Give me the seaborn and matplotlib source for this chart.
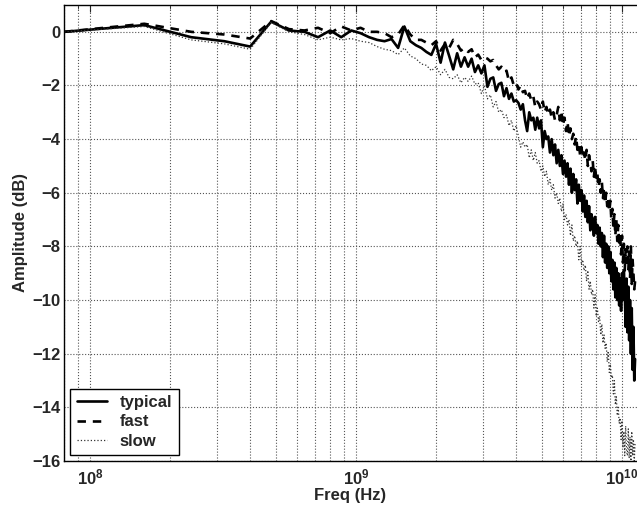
import numpy as np
import pandas as pd
import seaborn as sns
import matplotlib.pyplot as plt
from matplotlib.ticker import LogLocator, LogFormatterMathtext, NullFormatter

# frequency points (MHz), 80 MHz sweep step
freq_mhz = [
    80, 160, 240, 320, 400, 480, 560, 640, 720, 800,
    880, 960, 1040, 1120, 1200, 1280, 1360, 1440, 1520, 1600,
    1680, 1760, 1840, 1920, 2000, 2080, 2160, 2240, 2320, 2400,
    2480, 2560, 2640, 2720, 2800, 2880, 2960, 3040, 3120, 3200,
    3280, 3360, 3440, 3520, 3600, 3680, 3760, 3840, 3920, 4000,
    4080, 4160, 4240, 4320, 4400, 4480, 4560, 4640, 4720, 4800,
    4880, 4960, 5040, 5120, 5200, 5280, 5360, 5440, 5520, 5600,
    5680, 5760, 5840, 5920, 6000, 6080, 6160, 6240, 6320, 6400,
    6480, 6560, 6640, 6720, 6800, 6880, 6960, 7040, 7120, 7200,
    7280, 7360, 7440, 7520, 7600, 7680, 7760, 7840, 7920, 8000,
    8080, 8160, 8240, 8320, 8400, 8480, 8560, 8640, 8720, 8800,
    8880, 8960, 9040, 9120, 9200, 9280, 9360, 9440, 9520, 9600,
    9680, 9760, 9840, 9920, 10000, 10080, 10160, 10240, 10320, 10400,
    10480, 10560, 10640, 10720, 10800, 10880, 10960, 11040, 11120, 11200,
]

typical = [
    0.0, 0.25, -0.2, -0.35, -0.55, 0.38, 0.05, 0.0, -0.2, 0.05,
    -0.2, 0.05, -0.05, -0.2, -0.3, -0.35, -0.27, -0.6, 0.2, -0.35,
    -0.5, -0.6, -0.75, -0.86, -0.45, -1.15, -0.4, -0.9, -1.4, -0.8,
    -1.3, -0.95, -1.3, -1.0, -1.5, -1.25, -1.55, -1.25, -2.05, -1.75,
    -1.7, -2.2, -1.95, -1.9, -2.4, -2.1, -2.5, -2.3, -2.6, -2.55,
    -2.65, -2.9, -2.7, -3.3, -3.7, -3.0, -3.3, -3.2, -3.65, -3.2,
    -3.6, -3.3, -4.3, -3.7, -4.0, -3.9, -4.5, -4.0, -4.6, -4.2,
    -4.9, -4.4, -5.0, -4.6, -5.3, -4.8, -5.4, -4.9, -5.7, -5.1,
    -6.0, -5.3, -5.9, -5.5, -6.4, -5.7, -6.3, -5.9, -6.7, -6.1,
    -6.9, -6.3, -7.1, -6.5, -7.4, -6.8, -7.1, -7.6, -6.9, -7.5,
    -7.2, -7.9, -7.3, -8.0, -7.5, -8.4, -7.6, -8.6, -7.9, -8.8,
    -8.0, -9.0, -8.2, -9.3, -8.5, -9.6, -8.6, -9.9, -8.8, -10.0,
    -9.0, -10.2, -9.2, -10.4, -9.0, -10.0, -8.9, -9.6, -11.0, -9.2,
    -11.2, -9.5, -11.5, -10.0, -12.0, -10.3, -12.6, -11.0, -13.0, -12.2,
]

fast = [
    0.0, 0.3, 0.0, -0.1, -0.25, 0.4, 0.1, 0.05, 0.15, -0.05,
    0.2, 0.05, 0.15, 0.0, 0.0, -0.05, -0.2, -0.1, 0.25, -0.1,
    -0.3, -0.3, -0.4, -0.5, -0.35, -0.7, -0.45, -0.6, -0.3, -0.45,
    -0.7, -0.6, -0.75, -0.65, -0.95, -0.85, -1.05, -0.95, -1.0, -1.1,
    -1.05, -1.25, -1.4, -1.3, -1.5, -1.45, -1.85, -1.7, -2.0, -1.9,
    -2.15, -2.0, -2.25, -2.2, -2.5, -2.3, -2.55, -2.4, -2.8, -2.6,
    -2.7, -2.9, -2.6, -3.0, -2.8, -3.1, -2.9, -3.2, -3.0, -3.3,
    -3.1, -2.8, -3.3, -3.0, -3.5, -3.2, -3.7, -3.35, -3.9, -3.6,
    -4.0, -3.8, -4.2, -3.9, -4.4, -4.2, -4.6, -4.3, -4.7, -4.5,
    -4.8, -4.4, -5.0, -4.6, -4.9, -5.2, -4.8, -5.4, -5.0, -5.5,
    -5.3, -5.8, -5.5, -6.0, -5.6, -6.2, -5.8, -6.4, -6.0, -6.5,
    -6.2, -6.7, -6.3, -7.0, -6.6, -7.3, -6.8, -7.6, -7.0, -7.8,
    -7.2, -8.0, -7.5, -8.3, -7.6, -8.6, -7.9, -8.9, -8.1, -8.6,
    -8.0, -8.9, -8.2, -9.2, -8.0, -9.4, -8.5, -9.0, -9.6, -9.3,
]

slow = [
    0.0, 0.2, -0.3, -0.45, -0.65, 0.35, 0.0, -0.1, -0.3, -0.2,
    -0.3, -0.25, -0.35, -0.4, -0.55, -0.65, -0.7, -0.85, -0.6, -0.9,
    -1.0, -1.2, -1.25, -1.45, -1.3, -1.6, -1.4, -1.7, -1.75, -1.6,
    -1.9, -1.7, -1.85, -1.65, -1.95, -1.9, -2.3, -2.0, -2.5, -2.35,
    -2.8, -2.6, -3.0, -2.9, -3.2, -3.1, -3.5, -3.3, -3.7, -3.5,
    -3.9, -4.3, -4.1, -4.3, -4.2, -4.7, -4.4, -4.8, -4.5, -4.9,
    -4.8, -5.2, -5.0, -5.4, -5.2, -5.7, -5.5, -5.9, -5.7, -6.2,
    -6.0, -6.4, -6.2, -6.7, -6.4, -7.0, -6.8, -7.2, -7.0, -7.6,
    -7.2, -7.8, -7.6, -8.0, -7.8, -8.5, -8.0, -8.7, -8.5, -8.9,
    -8.7, -9.3, -8.9, -9.6, -9.3, -9.8, -9.6, -10.3, -9.8, -10.6,
    -10.3, -10.8, -10.6, -11.3, -10.9, -11.6, -11.3, -11.8, -11.6, -12.3,
    -11.9, -12.7, -12.4, -12.9, -12.8, -13.5, -13.0, -13.9, -13.6, -14.3,
    -14.0, -14.6, -14.4, -15.2, -14.5, -15.5, -14.9, -15.8, -14.7, -15.6,
    -15.8, -14.8, -15.9, -15.1, -16.0, -14.9, -15.8, -15.2, -16.0, -15.3,
]

y_ticks = [-16, -14, -12, -10, -8, -6, -4, -2, 0]

df = pd.DataFrame({
    "freq": np.array(freq_mhz) * 1e6,
    "typical": typical,
    "fast": fast,
    "slow": slow,
})

sns.set_style("white")
plt.rcParams['font.family'] = ['Liberation Sans', 'DejaVu Sans']
plt.rcParams['font.weight'] = 'bold'
plt.rcParams['axes.labelweight'] = 'bold'
plt.rcParams['mathtext.fontset'] = 'custom'
plt.rcParams['mathtext.rm'] = 'Liberation Sans:bold'
plt.rcParams['mathtext.bf'] = 'Liberation Sans:bold'
plt.rcParams['mathtext.default'] = 'bf'

fs = 12
dpi = 100
fig = plt.figure(figsize=(6.37, 5.14), dpi=dpi)
ax = fig.add_axes([64 / 637, 53 / 514, 573 / 637, 456 / 514])

sns.lineplot(data=df, x="freq", y="typical", ax=ax, color="k", lw=1.9,
             label="typical")
sns.lineplot(data=df, x="freq", y="fast", ax=ax, color="k", lw=1.9,
             dashes=False, linestyle=(0, (3.2, 2.6)), label="fast")
sns.lineplot(data=df, x="freq", y="slow", ax=ax, color="#333333", lw=0.9,
             linestyle=":", label="slow")

ax.set_xscale("log")
ax.set_xlim(10 ** (8 - 26 / 266), 10 ** (10 + 15 / 266))
ax.set_ylim(-16, 1)
ax.set_yticks(y_ticks)
ax.xaxis.set_major_locator(LogLocator(base=10))
ax.xaxis.set_major_formatter(LogFormatterMathtext())
ax.xaxis.set_minor_locator(LogLocator(base=10, subs=np.arange(2, 10)))
ax.xaxis.set_minor_formatter(NullFormatter())

ax.grid(True, which="major", axis="both", color="#555555", ls=":", lw=0.8)
ax.grid(True, which="minor", axis="x", color="#555555", ls=":", lw=0.8)

ax.tick_params(axis="both", which="major", direction="in", length=5,
               width=0.8, labelsize=fs, top=True)
ax.tick_params(axis="x", which="major", pad=5)
ax.tick_params(axis="y", which="major", pad=2.5)
ax.tick_params(axis="x", which="minor", direction="in", length=3,
               width=0.6, top=True)
for lab in ax.get_xticklabels() + ax.get_yticklabels():
    lab.set_fontweight("bold")

for side in ["left", "bottom", "top"]:
    ax.spines[side].set_color("k")
    ax.spines[side].set_linewidth(1.0)
ax.spines["right"].set_visible(False)

ax.set_xlabel("Freq (Hz)", fontsize=fs, fontweight="bold", labelpad=0)
ax.set_ylabel("Amplitude (dB)", fontsize=fs, fontweight="bold", labelpad=3)

leg = ax.legend(loc="lower left", fontsize=fs, frameon=True, fancybox=False,
                edgecolor="k", framealpha=1, borderaxespad=0.35,
                handlelength=1.85, handletextpad=0.75, labelspacing=0.25,
                borderpad=0.4)
leg.get_frame().set_linewidth(1.0)
for t in leg.get_texts():
    t.set_fontweight("bold")

plt.savefig("out.png", dpi=dpi)
